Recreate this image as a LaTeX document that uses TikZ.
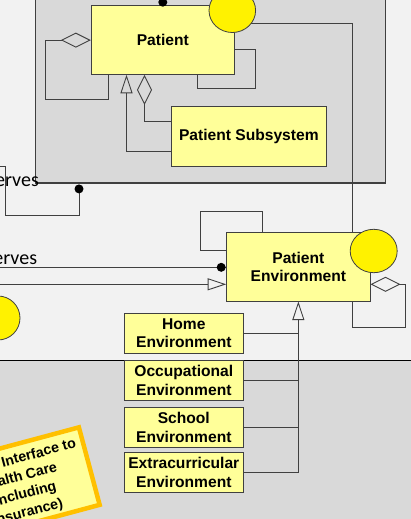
\documentclass[tikz,border=0pt]{standalone}
\usepackage{fontspec}
\setmainfont{Liberation Sans}
\newfontfamily\calfont{Carlito}
\usetikzlibrary{arrows.meta,calc}
\definecolor{bgA}{HTML}{F2F2F2}
\definecolor{bgB}{HTML}{D9D9D9}
\definecolor{boxfill}{HTML}{FFFF99}
\definecolor{edge}{HTML}{404040}
\definecolor{notebd}{HTML}{FFC000}
\tikzset{
  cls/.style={draw=edge, line width=1pt, fill=boxfill, inner sep=0pt, align=center,
    font=\fontsize{15.6}{18.7}\selectfont\bfseries},
  conn/.style={draw=edge, line width=1pt},
  blob/.style={draw=edge, line width=0.8pt, fill=yellow},
  agg/.style={-{Diamond[open, length=30pt, width=15pt, line width=0.9pt]}},
  gen/.style={-{Triangle[open, length=18.5pt, width=12pt, line width=0.9pt]}},
  lbl/.style={font=\calfont\fontsize{20}{22}\selectfont, text=black, inner sep=0pt}
}
\begin{document}
\begin{tikzpicture}[x=1pt, y=1pt]
\useasboundingbox (0,0) rectangle (411,-519);
% backgrounds
\fill[bgA] (0,0) rectangle (411,-519);
\fill[bgB] (0,-360.3) rectangle (411,-519);
\draw[black, line width=1pt] (0,-360.3) -- (411,-360.3);
% subsystem container
\node[draw=edge, line width=1.2pt, fill=bgB, minimum width=350pt, minimum height=213pt, inner sep=0pt]
  (sys) at (210.7,-76.5) {};
% note
\begin{scope}[shift={(91.5,-465.5)}, rotate=15, transform shape]
  \node[draw=notebd, line width=4.5pt, fill=boxfill, minimum width=140pt, minimum height=80.2pt,
    inner sep=0pt] (note) at (-72.3,0) {};
  \node[align=center, font=\fontsize{14.2}{18}\selectfont\bfseries, inner sep=0pt] (notetext) at (-73.5,-2)
    {\makebox[9em][r]{Interface to}\\Health Care\\(Including\\Insurance)};
\end{scope}
% classes
\node[cls, minimum width=143pt, minimum height=68.3pt] (pat) at (162.8,-40.15) {Patient};
\node[cls, minimum width=154.3pt, minimum height=60pt] (ps) at (248.85,-136) {Patient Subsystem};
\node[cls, minimum width=143.3pt, minimum height=68.3pt] (pe) at (298.35,-266.85) {Patient\\Environment};
\node[cls, minimum width=119pt, minimum height=40pt] (home) at (183.8,-333.3) {Home\\Environment};
\node[cls, minimum width=119pt, minimum height=39.3pt] (occ) at (183.8,-380.35) {Occupational\\Environment};
\node[cls, minimum width=119pt, minimum height=39.3pt] (school) at (183.8,-427.35) {School\\Environment};
\node[cls, minimum width=119pt, minimum height=39.6pt] (extra) at (183.8,-472.5) {Extracurricular\\Environment};
% free coordinates
\coordinate (topend) at (162,8);
\coordinate (lp1) at (45.7,-99);
\coordinate (rp1) at (255.3,-88.7);
\coordinate (lA) at (-5,-166.7);
\coordinate (c1) at (5.3,-215);
\coordinate (lB) at (-5,-267.3);
\coordinate (lC) at (-5,-284.3);
\coordinate (tl1) at (200.7,-211.7);
\coordinate (rl1) at (405.7,-327.7);
% connectors
\draw[conn] (pat.north) -- (topend);
\draw[conn] ([yshift=16.85]pat.east) -| ([xshift=53.95]pe.north);
\draw[conn, agg] ([xshift=17.7]pat.south west) |- (lp1) |- (pat.west);
\draw[conn] ([yshift=-9.55]pat.east) -| (rp1) -| ([xshift=107]pat.south west);
\draw[conn, gen] ([yshift=-15]ps.west) -| ([xshift=35.7]pat.south west);
\draw[conn, agg] ([yshift=15]ps.west) -| ([xshift=53.7]pat.south west);
\draw[conn] (lA) -| (c1) -| ([xshift=-131.7,yshift=-5.3]sys.south);
\draw[conn] (lB) -- ([yshift=-0.45]pe.west);
\draw[conn, gen] (lC) -- ([yshift=-17.45]pe.west);
\draw[conn] ([xshift=-35.65]pe.north) |- (tl1) |- ([yshift=16.85]pe.west);
\draw[conn, agg] ([xshift=-18]pe.south east) |- (rl1) |- ([yshift=-17.45]pe.east);
\draw[conn] (home.east) -- (home.east -| pe.south);
\draw[conn] (occ.east) -- (occ.east -| pe.south);
\draw[conn] (school.east) -- (school.east -| pe.south);
\draw[conn, gen] (extra.east) -| (pe.south);
% dots
\fill[black] ([yshift=3.3]pat.north) circle (4.5pt);
\fill[black] ([xshift=-131.7,yshift=-5.3]sys.south) circle (4.5pt);
\fill[black] ([xshift=-5,yshift=-0.45]pe.west) circle (4.5pt);
% yellow blobs
\draw[blob] (232.3,-10.5) ellipse (23.3pt and 22pt);
\draw[blob] (373.7,-251) ellipse (23.5pt and 21.7pt);
\draw[blob] (-2,-318) circle (22pt);
% labels
\node[lbl, anchor=base east] (serves1) at (39,-186) {erves};
\node[lbl, anchor=base east] (serves2) at (37.3,-264) {erves};
\end{tikzpicture}
\end{document}
